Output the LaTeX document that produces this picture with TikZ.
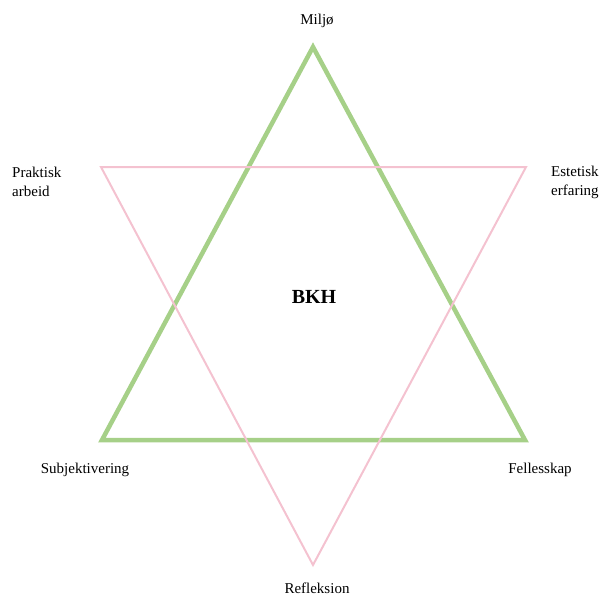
\documentclass[tikz,border=0pt]{standalone}
\usepackage{fontspec}
\setmainfont{Liberation Serif}
\definecolor{tgreen}{RGB}{166,208,136}
\definecolor{tpink}{RGB}{244,194,208}
\begin{document}
\begin{tikzpicture}[x=1pt,y=-1pt,
  lbl/.style={font=\fontsize{15}{19}\selectfont, inner sep=0pt},
  greentri/.style={draw=tgreen, line width=4.5pt, line join=miter},
  pinktri/.style={draw=tpink, line width=2pt, line join=miter}]
\useasboundingbox (0,0) rectangle (608,595);
\coordinate (gA) at (313,47);
\coordinate (gL) at (102,440);
\coordinate (gR) at (525,440);
\coordinate (pL) at (101,167);
\coordinate (pR) at (526,167);
\coordinate (pB) at (313,565);
\draw[greentri] (gA) -- (gR) -- (gL) -- cycle;
\draw[pinktri] (pL) -- (pR) -- (pB) -- cycle;
\node[lbl] (miljo) at (317,21) {Miljø};
\node[lbl, anchor=west, align=left] (prak) at (12,182) {Praktisk\\arbeid};
\node[lbl, anchor=west, align=left] (este) at (551,182) {Estetisk\\erfaring};
\node[lbl] (subj) at (85,470) {Subjektivering};
\node[lbl] (fell) at (540,470) {Fellesskap};
\node[lbl] (refl) at (317,588) {Refleksion};
\node[font=\fontsize{20}{24}\selectfont\bfseries, inner sep=0pt] (bkh) at (314,297) {BKH};
\end{tikzpicture}
\end{document}
